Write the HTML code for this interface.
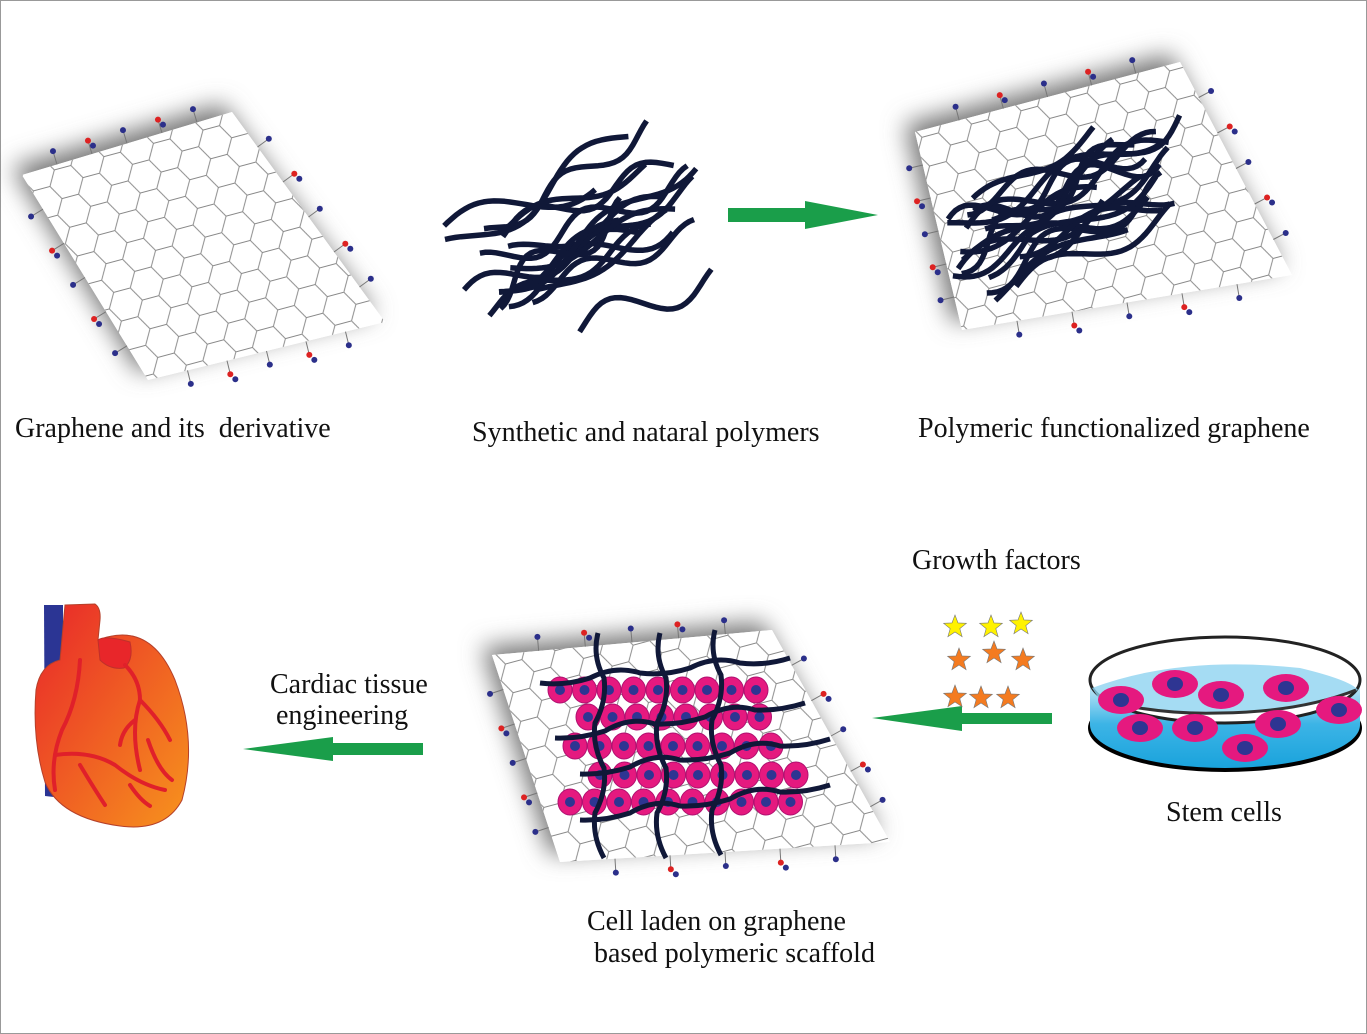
<!DOCTYPE html>
<html><head><meta charset="utf-8"><style>
html,body{margin:0;padding:0;background:#fff}
body{width:1367px;height:1034px;overflow:hidden;position:relative}
svg{position:absolute;left:0;top:0}
.t{font-family:"Liberation Serif",serif;font-size:28px;fill:#111;white-space:pre}
</style></head><body>
<svg id="s" width="1367" height="1034" xmlns="http://www.w3.org/2000/svg">
<defs>
<filter id="bl" x="-30%" y="-30%" width="160%" height="160%"><feGaussianBlur stdDeviation="12"/></filter>
<pattern id="hex" width="38" height="22" patternUnits="userSpaceOnUse" patternTransform="rotate(-15) scale(1.35)">
<rect width="38" height="22" fill="#fff"/>
<path d="M0 11 L6.3 0 L19 0 L25.3 11 L19 22 L6.3 22 Z M25.3 11 L38 11" fill="#fff" stroke="#888" stroke-width="0.7"/>
</pattern>
<linearGradient id="hg" x1="0" y1="0" x2="1" y2="1"><stop offset="0" stop-color="#e8262a"/><stop offset="1" stop-color="#f7941d"/></linearGradient>
<linearGradient id="wg" x1="0" y1="0" x2="0" y2="1"><stop offset="0" stop-color="#d6eef8"/><stop offset="0.5" stop-color="#3cb4e6"/><stop offset="1" stop-color="#1aa3dc"/></linearGradient>
</defs>
<rect x="0.5" y="0.5" width="1366" height="1033" fill="none" stroke="#999" stroke-width="1"/>
<g id="g"></g>
<polygon points="728,208 805,208 805,201 878,215 805,229 805,222 728,222" fill="#1a9e4a"/>
<polygon points="1052,713 962,713 962,706 872,718 962,731 962,724 1052,724" fill="#1a9e4a"/>
<polygon points="423,743 333,743 333,737 243,749 333,761 333,755 423,755" fill="#1a9e4a"/>
<path d="M44 605 L63 605 L63 790 Q63 798 54 797 L45 796 Z" fill="#2b3594"/>
<path d="M65 605 L95 604 Q101 608 100 620 L98 640 Q150 620 175 680 Q198 740 182 800 Q165 832 120 826 Q60 818 45 782 Q32 740 36 690 Q40 665 60 660 Z" fill="url(#hg)" stroke="#b5402a" stroke-width="1"/>
<path d="M98 640 Q105 635 130 642 Q134 660 124 668 Q110 670 100 660 Z" fill="#e8262a" stroke="#c0302a" stroke-width="1"/>
<g fill="none" stroke="#e0202a" stroke-width="4" stroke-linecap="round">
<path d="M80 660 Q78 700 62 730 Q50 760 55 790"/>
<path d="M55 755 Q90 750 115 765 Q140 785 165 790"/>
<path d="M125 665 Q140 680 140 700 Q130 730 140 770"/>
<path d="M140 700 Q160 720 170 740"/>
<path d="M135 720 Q122 730 120 745"/>
<path d="M148 740 Q158 770 172 780"/>
<path d="M80 765 Q95 790 105 805"/>
<path d="M130 785 Q140 800 150 806"/>
</g>
<g id="stars"></g>
<ellipse cx="1225" cy="728" rx="137" ry="44" fill="#000"/>
<path d="M1090 680 L1090 725 A135 43 0 0 0 1360 725 L1360 680 Z" fill="url(#wg)"/>
<ellipse cx="1225" cy="680" rx="135" ry="43" fill="#fff" stroke="#222" stroke-width="3"/>
<path d="M1092 688 Q1180 655 1300 668 Q1350 680 1358 690 Q1300 715 1220 713 Q1140 712 1100 700 Z" fill="#8fd3f0" opacity="0.8"/>
<path d="M1100 700 Q1160 715 1220 713 Q1300 712 1356 690" fill="none" stroke="#333" stroke-width="3"/>
<g id="cells"></g>
<text class="t" x="15" y="437" xml:space="preserve">Graphene and its  derivative</text>
<text class="t" x="472" y="441">Synthetic and nataral polymers</text>
<text class="t" x="918" y="437">Polymeric functionalized graphene</text>
<text class="t" x="912" y="569">Growth factors</text>
<text class="t" x="270" y="693">Cardiac tissue</text>
<text class="t" x="276" y="724">engineering</text>
<text class="t" x="1166" y="821">Stem cells</text>
<text class="t" x="587" y="930">Cell laden on graphene</text>
<text class="t" x="594" y="962">based polymeric scaffold</text>
</svg>
<script>
var NS="http://www.w3.org/2000/svg",g=document.getElementById('g');
function el(t,a,p){var e=document.createElementNS(NS,t);for(var k in a)e.setAttribute(k,a[k]);(p||g).appendChild(e);return e}
function sheet(pts){
 var d="M"+pts.map(function(p){return p.join(",")}).join(" L")+"Z";
 el('path',{d:d,fill:'#777',filter:'url(#bl)',transform:'translate(-10,-8)'});
 el('path',{d:d,fill:'#fff'});
 el('path',{d:d,fill:'url(#hex)'});
 for(var i=0;i<4;i++){var a=pts[i],b=pts[(i+1)%4];
  for(var j=1;j<6;j++){var f=j/6,x=a[0]+(b[0]-a[0])*f,y=a[1]+(b[1]-a[1])*f;
   var nx=(b[1]-a[1]),ny=-(b[0]-a[0]),L=Math.hypot(nx,ny);nx/=L;ny/=L;
   var ex=x+nx*14,ey=y+ny*14;
   el('line',{x1:x,y1:y,x2:ex,y2:ey,stroke:'#777','stroke-width':1});
   el('circle',{cx:ex,cy:ey,r:3,fill:j%2?'#2b2f8a':'#d22'});
   if(j%2==0)el('circle',{cx:ex+5,cy:ey+5,r:3,fill:'#2b2f8a'});
 }}
}
sheet([[22,175],[232,112],[385,322],[148,380]]);
sheet([[915,132],[1180,62],[1292,275],[962,330]]);
sheet([[492,655],[772,630],[890,842],[560,862]]);
function tangle(cx,cy,w,h,n,seed){
 var r=seed;function rnd(){r=(r*9301+49297)%233280;return r/233280}
 for(var i=0;i<n;i++){
  var len=140+rnd()*100, sx=cx-w/2+rnd()*(w-len*0.85), sy=cy-h/2+rnd()*h;
  var ang=-0.3-rnd()*0.35, ph=rnd()*6.28, amp=8+rnd()*8, per=110+rnd()*80;
  var d="";for(var t=0;t<=len;t+=5){var s=Math.sin(ph+t/per*6.28);
   var px=sx+t*Math.cos(ang)-Math.sin(ang)*amp*s;
   var py=sy+t*Math.sin(ang)+Math.cos(ang)*amp*s;
   d+=(t?" L":"M")+px.toFixed(1)+","+py.toFixed(1)}
  el('path',{d:d,fill:'none',stroke:'#101838','stroke-width':5.5,'stroke-linejoin':'round'});
 }
}
tangle(575,275,270,110,18,7);
tangle(1068,245,240,100,20,13);
var rows=[[690,560,9],[717,588,8],[746,575,9],[775,600,9],[802,570,10]];
rows.forEach(function(r){for(var i=0;i<r[2];i++){var x=r[1]+i*24.5;
 el('ellipse',{cx:x,cy:r[0],rx:12,ry:13,fill:'#e5197f',stroke:'#b01070','stroke-width':1});
 el('circle',{cx:x,cy:r[0],r:5,fill:'#2e3592'});}});
var P={fill:'none',stroke:'#101838','stroke-width':5};
[[540,683],[555,738],[580,774],[580,820]].forEach(function(a,i){
 var x=a[0],y=a[1],d="M"+x+","+y;for(var k=1;k<=5;k++){var nx=x+k*50,ny=y-k*(i==0?5:7);d+=" Q"+(nx-25)+","+(ny+(k%2?8:-8))+" "+nx+","+ny}
 el('path',Object.assign({d:d},P));});
[[598,633],[660,633],[715,630]].forEach(function(a){
 var x=a[0],y=a[1],d="M"+x+","+y;for(var k=1;k<=5;k++){var ny=y+k*45,nx=x+(k%2?10:-5)*0.6;d+=" Q"+(nx+(k%2?-12:12))+","+(ny-22)+" "+nx+","+ny}
 el('path',Object.assign({d:d},P));});
function star(cx,cy,r,c){var p=[];for(var i=0;i<10;i++){var a=-Math.PI/2+i*Math.PI/5,rr=i%2?r*0.42:r;p.push((cx+rr*Math.cos(a)).toFixed(1)+","+(cy+rr*Math.sin(a)).toFixed(1))}
 el('polygon',{points:p.join(" "),fill:c,stroke:'#777','stroke-width':0.6},document.getElementById('stars'))}
[[955,627],[991,627],[1021,624]].forEach(function(a){star(a[0],a[1],12,'#fff200')});
[[959,660],[994,653],[1023,660]].forEach(function(a){star(a[0],a[1],12,'#f47b20')});
[[955,697],[981,698],[1008,698]].forEach(function(a){star(a[0],a[1],12,'#f47b20')});
var cg=document.getElementById('cells');
[[1175,684],[1221,695],[1286,688],[1121,700],[1339,710],[1140,728],[1195,728],[1278,724],[1245,748]].forEach(function(a){
 el('ellipse',{cx:a[0],cy:a[1],rx:23,ry:14,fill:'#e5197f'},cg);el('ellipse',{cx:a[0],cy:a[1],rx:8,ry:7,fill:'#2e3592'},cg)});
</script>
</body></html>
